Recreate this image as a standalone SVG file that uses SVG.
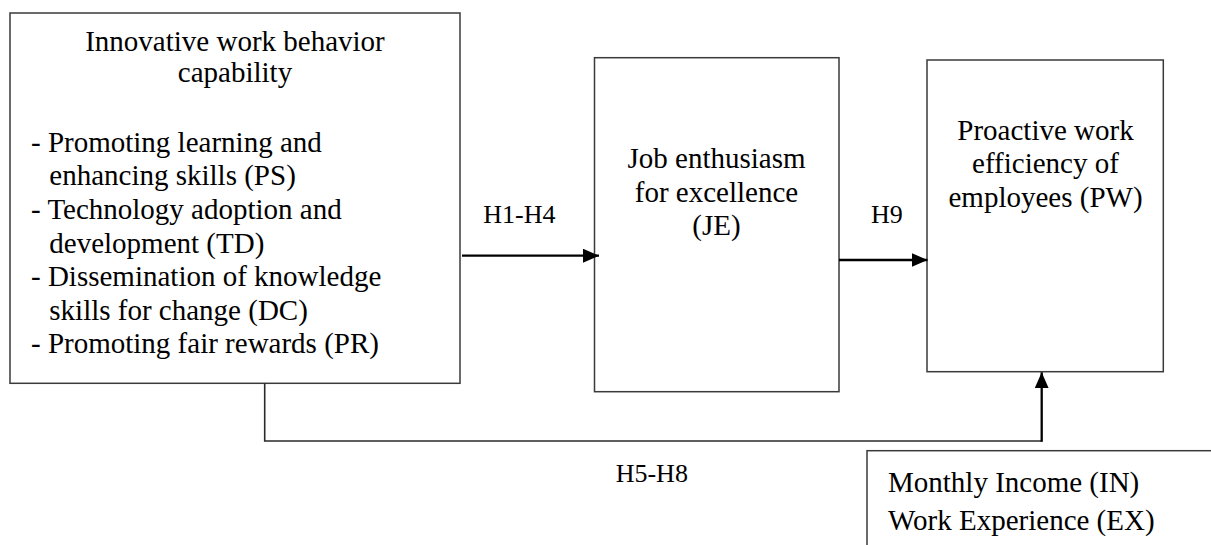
<svg xmlns="http://www.w3.org/2000/svg" width="1211" height="545" viewBox="0 0 1211 545">
  <style>
    .box { fill: #ffffff; stroke: #3a3a3a; stroke-width: 1.5; }
    .t { font-family: "Liberation Serif", "Times New Roman", serif; font-size: 29px; fill: #000000; }
    .c { text-anchor: middle; }
    .lbl { font-family: "Liberation Serif", "Times New Roman", serif; font-size: 26px; fill: #000000; }
    .conn { fill: none; stroke: #000000; stroke-width: 2.3; }
    .elbow { fill: none; stroke: #2a2a2a; stroke-width: 1.6; }
  </style>
  <defs>
    <marker id="arrow" markerUnits="userSpaceOnUse" markerWidth="16" markerHeight="14" refX="16" refY="7" orient="auto">
      <path d="M0,0 L16,7 L0,14 Z" fill="#000000"/>
    </marker>
  </defs>
  <rect width="1211" height="545" fill="#ffffff"/>

  <g id="node-iwb">
    <rect class="box" x="10" y="13" width="450" height="370.3"/>
    <text class="t c" x="235" y="51">Innovative work behavior</text>
    <text class="t c" x="235" y="82">capability</text>
    <text class="t" x="31" y="151.7">- Promoting learning and</text>
    <text class="t" x="49.3" y="185.3">enhancing skills (PS)</text>
    <text class="t" x="31" y="218.9">- Technology adoption and</text>
    <text class="t" x="49.3" y="252.5">development (TD)</text>
    <text class="t" x="31" y="286.1">- Dissemination of knowledge</text>
    <text class="t" x="49.3" y="319.7">skills for change (DC)</text>
    <text class="t" x="31" y="353.3">- Promoting fair rewards (PR)</text>
  </g>

  <g id="node-je">
    <rect class="box" x="594.5" y="57.7" width="244.5" height="334"/>
    <text class="t c" x="716.5" y="168.3">Job enthusiasm</text>
    <text class="t c" x="716.5" y="201.7">for excellence</text>
    <text class="t c" x="716.5" y="235">(JE)</text>
  </g>

  <g id="node-pw">
    <rect class="box" x="927" y="60" width="236.3" height="311.7"/>
    <text class="t c" x="1045.5" y="140">Proactive work</text>
    <text class="t c" x="1045.5" y="173.3">efficiency of</text>
    <text class="t c" x="1045.5" y="206.7">employees (PW)</text>
  </g>

  <g id="node-controls">
    <rect class="box" x="867" y="450.7" width="400" height="200"/>
    <text class="t" x="888" y="491.7">Monthly Income (IN)</text>
    <text class="t" x="888" y="530">Work Experience (EX)</text>
  </g>

  <g id="connectors">
    <line class="conn" x1="462" y1="255.7" x2="599" y2="255.7" marker-end="url(#arrow)"/>
    <line class="conn" x1="839" y1="260" x2="927.5" y2="260" marker-end="url(#arrow)"/>
    <path class="elbow" d="M264.7,383.3 V441 H1041.7"/>
    <line class="conn" x1="1041.7" y1="441.8" x2="1041.7" y2="372.3" marker-end="url(#arrow)"/>
    <text class="lbl" x="483.3" y="223.3">H1-H4</text>
    <text class="lbl" x="871" y="222.7">H9</text>
    <text class="lbl" x="615.7" y="481.7">H5-H8</text>
  </g>
</svg>
